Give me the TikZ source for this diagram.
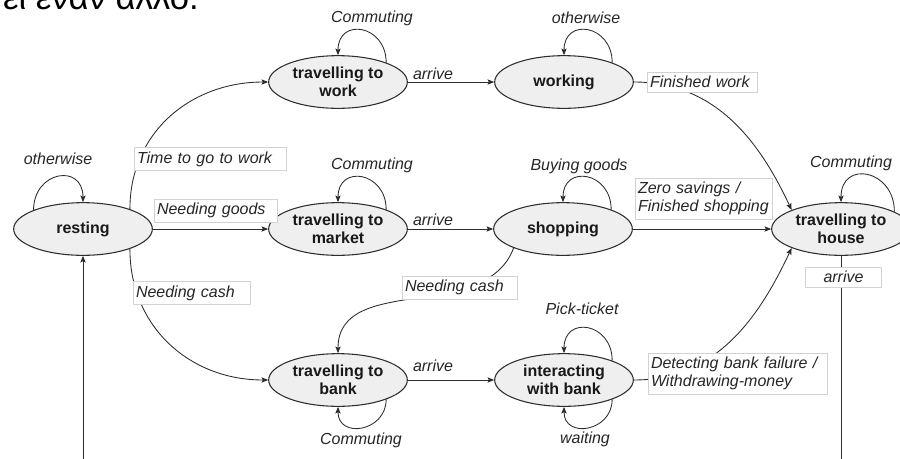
\documentclass[tikz,border=0pt]{standalone}
\usepackage{fontspec}
\setmainfont{Liberation Sans}
\usetikzlibrary{arrows.meta,shapes}
\definecolor{stategray}{RGB}{239,239,239}
\definecolor{linegray}{RGB}{45,45,45}
\definecolor{boxgray}{RGB}{210,210,210}
\tikzset{
  statenode/.style={ellipse,draw=linegray,line width=0.8pt,fill=stategray,
    minimum width=104pt,minimum height=39.5pt,inner sep=0pt,align=center,
    font=\fontsize{12}{13.5}\selectfont\bfseries,text=black!90},
  conn/.style={draw=linegray,line width=0.65pt,-{Stealth[length=5pt,width=4pt,inset=1pt]}},
  textlbl/.style={font=\fontsize{12}{13.5}\selectfont\itshape,inner sep=0pt,text=black!85},
  boxlbl/.style={textlbl,draw=boxgray,fill=white,line width=0.5pt,
    inner xsep=2pt,inner ysep=3pt,align=left,anchor=west},
}
\begin{document}
\begin{tikzpicture}[x=0.75pt,y=-0.75pt]
  \useasboundingbox (0,0) rectangle (900,458);
  \clip (0,0) rectangle (900,458);

  % Text Node (line of the page above, cut off)
  \node[anchor=base east,inner sep=0pt,font=\fontsize{26}{31}\selectfont,text=black] (pagetext) at (199,9) {ει έναν άλλο.};

  %Shape: Ellipse (states)
  \node[statenode] (resting) at (83,229) {resting};
  \node[statenode] (twork) at (338,82) {travelling to\\work};
  \node[statenode] (working) at (564,82) {working};
  \node[statenode] (tmarket) at (338,229) {travelling to\\market};
  \node[statenode] (shopping) at (563,229) {shopping};
  \node[statenode] (thouse) at (841,229) {travelling to\\house};
  \node[statenode] (tbank) at (338,380) {travelling to\\bank};
  \node[statenode] (ibank) at (564,380) {interacting\\with bank};

  %Straight Lines and Curves
  \draw[conn] (resting.23) to[out=90,in=180,looseness=1.05] (twork.west);
  \draw[conn] (resting.east) -- (tmarket.west);
  \draw[conn] (resting.-23) to[out=-90,in=180,looseness=1.05] (tbank.west);
  \draw[conn] (twork.east) -- (working.west);
  \draw[conn] (tmarket.east) -- (shopping.west);
  \draw[conn] (tbank.east) -- (ibank.west);
  \draw[conn] (working.east) to[out=0,in=115] (thouse.north west);
  \draw[conn] (shopping.east) -- (thouse.west);
  \draw[conn] (shopping.201) to[out=-110,in=90] (tbank.north);
  \draw[conn] (ibank.east) to[out=0,in=-115] (thouse.south west);
  \coordinate (hbottom) at (841,480);
  \draw[conn] (thouse.south) -- (hbottom) -| (resting.south);

  %Loops
  \draw[conn] (resting.159) to[out=90,in=90,looseness=2] (resting.north);
  \draw[conn] (twork.22) to[out=90,in=90,looseness=2] (twork.north);
  \draw[conn] (working.22) to[out=90,in=90,looseness=2] (working.north);
  \draw[conn] (tmarket.22) to[out=90,in=90,looseness=2] (tmarket.north);
  \draw[conn] (shopping.22) to[out=90,in=90,looseness=2] (shopping.north);
  \draw[conn] (thouse.18) to[out=90,in=90,looseness=2] (thouse.north);
  \draw[conn] (ibank.22) to[out=90,in=90,looseness=2] (ibank.north);
  \draw[conn] (tbank.-22) to[out=-90,in=-90,looseness=1.7] (tbank.south);
  \draw[conn] (ibank.-22) to[out=-90,in=-90,looseness=1.7] (ibank.south);

  % Text Node (loop labels)
  \node[textlbl] (lrest) at (58,159) {otherwise};
  \node[textlbl] (ltwork) at (372,18) {Commuting};
  \node[textlbl] (lwork) at (586,18) {otherwise};
  \node[textlbl] (ltmarket) at (372,165) {Commuting};
  \node[textlbl] (lshop) at (579,166) {Buying goods};
  \node[textlbl] (lthouse) at (851,163) {Commuting};
  \node[textlbl] (libanktop) at (582,309) {Pick-ticket};
  \node[textlbl] (ltbank) at (361,440) {Commuting};
  \node[textlbl] (libankbot) at (585,439) {waiting};

  % Text Node (arrive labels)
  \node[textlbl] (arrwork) at (433,74) {arrive};
  \node[textlbl] (arrshop) at (433,220) {arrive};
  \node[textlbl] (arrbank) at (433,366) {arrive};

  % Text Node (boxed labels)
  \node[boxlbl,text width=110pt] (lgowork) at (134,159) {Time to go to work};
  \node[boxlbl,text width=88pt] (lgoods) at (154,210.5) {Needing goods};
  \node[boxlbl,text width=84pt] (lcashrest) at (133,293) {Needing cash};
  \node[boxlbl,text width=78.5pt] (lfinwork) at (647,82) {Finished work};
  \node[boxlbl,text width=99pt] (lzero) at (635,198.5) {Zero savings /\\Finished shopping};
  \node[boxlbl,text width=82pt] (lcashshop) at (402,287.5) {Needing cash};
  \node[boxlbl,text width=130pt] (ldetect) at (648,373.5) {Detecting bank failure /\\Withdrawing-money};
  \node[boxlbl,anchor=center,align=center,text width=53pt] (larrhouse) at (843.5,277) {arrive};
\end{tikzpicture}
\end{document}
